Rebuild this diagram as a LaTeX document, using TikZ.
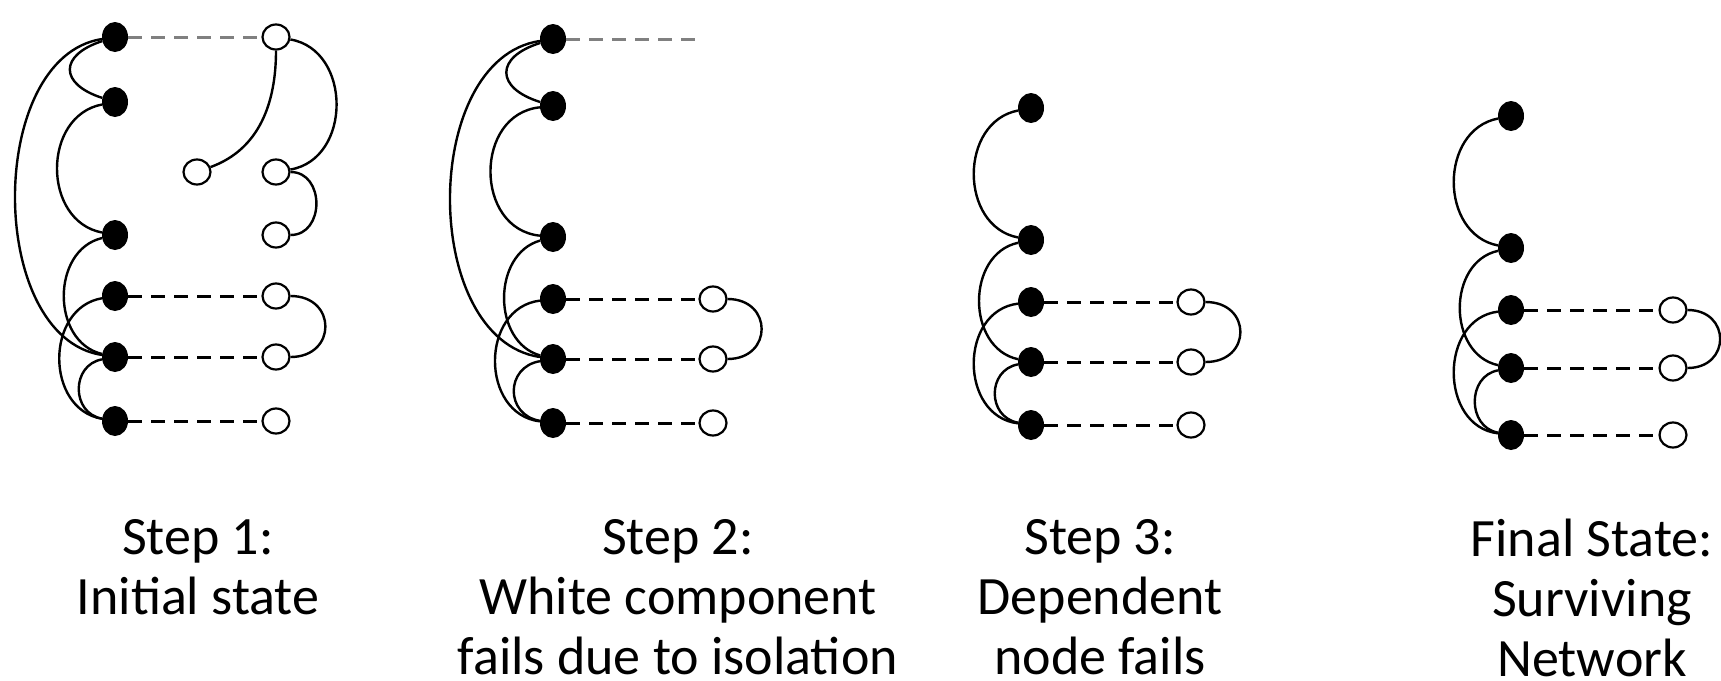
\documentclass[tikz,border=0pt]{standalone}
\usepackage{fontspec}
\setmainfont{Carlito}
\usetikzlibrary{shapes.geometric,calc}
% arc bulging to the left / right between two stacked nodes:
% #1 upper node, #2 lower node, #3 horizontal reach, #4 vertical lean
\newcommand\bendL[4]{\draw[link] (#1) .. controls ($(#1)+(-#3,-#4)$) and ($(#2)+(-#3,#4)$) .. (#2);}
\newcommand\bendR[4]{\draw[link] (#1) .. controls ($(#1)+(#3,-#4)$) and ($(#2)+(#3,#4)$) .. (#2);}
\begin{document}
\begin{tikzpicture}[x=1pt,y=1pt,
  full/.style={ellipse,fill=black,minimum width=26pt,minimum height=30pt,inner sep=0pt},
  hollow/.style={ellipse,draw=black,line width=2.2pt,fill=white,minimum width=27pt,minimum height=25pt,inner sep=0pt},
  link/.style={line width=2.4pt},
  dep/.style={line width=3pt,dash pattern=on 14pt off 9pt},
  lost/.style={dep,draw=black!50},
  caption/.style={align=center,font=\fontsize{54}{60}\selectfont,inner sep=0pt,anchor=north}]
\useasboundingbox (0,0) rectangle (1721,-680);

% ---------- Step 1 ----------
\node[full] (a1) at (115,-37) {};
\node[full] (a2) at (115,-102) {};
\node[full] (a3) at (115,-235) {};
\node[full] (a4) at (115,-296) {};
\node[full] (a5) at (115,-357) {};
\node[full] (a6) at (115,-421) {};
\node[hollow] (u1) at (276,-37) {};
\node[hollow] (u0) at (197,-172) {};
\node[hollow] (u2) at (276,-172) {};
\node[hollow] (u3) at (276,-235) {};
\node[hollow] (u4) at (276,-296) {};
\node[hollow] (u5) at (276,-357) {};
\node[hollow] (u6) at (276,-421) {};
\draw[lost] (a1) -- (u1);
\draw[dep] (a4) -- (u4);
\draw[dep] (a5) -- (u5);
\draw[dep] (a6) -- (u6);
\bendL{a1}{a2}{56}{18}
\bendL{a1}{a5}{129}{20}
\bendL{a2}{a3}{73}{14}
\bendL{a3}{a5}{64}{15}
\bendL{a4}{a6}{70}{12}
\bendL{a5}{a6}{44}{8}
\bendR{u1}{u2}{76}{13}
\bendR{u2}{u3}{49}{0}
\bendR{u4}{u5}{61}{0}
\draw[link] (u0) to[out=20,in=-90] (u1);

% ---------- Step 2 ----------
\node[full] (b1) at (553,-39) {};
\node[full] (b2) at (553,-106) {};
\node[full] (b3) at (553,-237) {};
\node[full] (b4) at (553,-299) {};
\node[full] (b5) at (553,-359) {};
\node[full] (b6) at (553,-423) {};
\node[hollow] (v4) at (713,-299) {};
\node[hollow] (v5) at (713,-359) {};
\node[hollow] (v6) at (713,-423) {};
\coordinate (cut) at (700,-39);
\draw[lost] (b1) -- (cut);
\draw[dep] (b4) -- (v4);
\draw[dep] (b5) -- (v5);
\draw[dep] (b6) -- (v6);
\bendL{b1}{b2}{58}{18}
\bendL{b1}{b5}{133}{20}
\bendL{b2}{b3}{79}{8}
\bendL{b3}{b5}{61}{17}
\bendL{b4}{b6}{73}{9}
\bendL{b5}{b6}{48}{8}
\bendR{v4}{v5}{60}{0}

% ---------- Step 3 ----------
\node[full] (c1) at (1031,-108) {};
\node[full] (c2) at (1031,-240) {};
\node[full] (c3) at (1031,-302) {};
\node[full] (c4) at (1031,-362) {};
\node[full] (c5) at (1031,-425) {};
\node[hollow] (w3) at (1191,-302) {};
\node[hollow] (w4) at (1191,-362) {};
\node[hollow] (w5) at (1191,-425) {};
\draw[dep] (c3) -- (w3);
\draw[dep] (c4) -- (w4);
\draw[dep] (c5) -- (w5);
\bendL{c1}{c2}{72}{14}
\bendL{c2}{c4}{65}{14}
\bendL{c3}{c5}{72}{9}
\bendL{c4}{c5}{44}{8}
\bendR{w3}{w4}{61}{0}

% ---------- Final state ----------
\node[full] (d1) at (1511,-116) {};
\node[full] (d2) at (1511,-248) {};
\node[full] (d3) at (1511,-310) {};
\node[full] (d4) at (1511,-368) {};
\node[full] (d5) at (1511,-435) {};
\node[hollow] (z3) at (1673,-310) {};
\node[hollow] (z4) at (1673,-368) {};
\node[hollow] (z5) at (1673,-435) {};
\draw[dep] (d3) -- (z3);
\draw[dep] (d4) -- (z4);
\draw[dep] (d5) -- (z5);
\bendL{d1}{d2}{72}{14}
\bendL{d2}{d4}{64}{14}
\bendL{d3}{d5}{72}{9}
\bendL{d4}{d5}{44}{8}
\bendR{z3}{z4}{58}{0}

% ---------- captions ----------
\node[caption] (t1) at (198,-519) {Step 1:\\Initial state};
\node[caption] (t2) at (678,-519) {Step 2:\\White component\\fails due to isolation};
\node[caption] (t3) at (1100,-519) {Step 3:\\Dependent\\node fails};
\node[caption] (t4) at (1592,-519) {Final State:\\Surviving\\Network};
\end{tikzpicture}
\end{document}
